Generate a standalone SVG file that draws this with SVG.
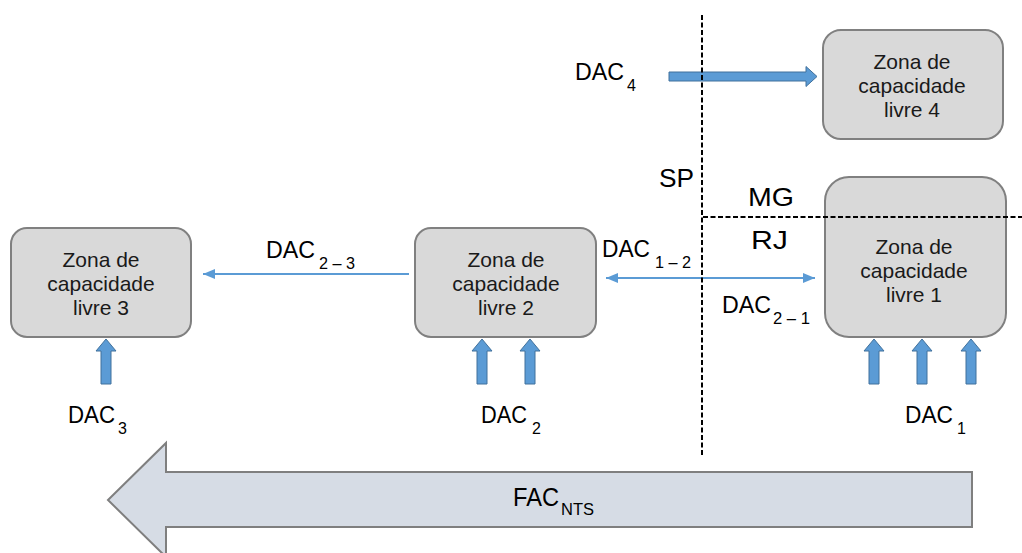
<svg xmlns="http://www.w3.org/2000/svg" xmlns:xlink="http://www.w3.org/1999/xlink" width="1022" height="553" viewBox="0 0 1022 553">
  <style>
    .zone { fill: #d9d9d9; stroke: #808080; stroke-width: 2; }
    .zt { font-family: "Liberation Sans", Arial, sans-serif; font-size: 21px; fill: #1a1a1a; text-anchor: middle; }
    .lbl { font-family: "Liberation Sans", Arial, sans-serif; font-size: 24px; fill: #000; }
    .sub { font-family: "Liberation Sans", Arial, sans-serif; font-size: 16px; fill: #000; }
    .big { font-family: "Liberation Sans", Arial, sans-serif; font-size: 26px; fill: #000; }
    .flow { stroke: #5b9bd5; stroke-width: 2.2; fill: none; }
    .block { fill: #5b9bd5; stroke: #41719c; stroke-width: 1; }
    .border { stroke: #000; stroke-width: 2; stroke-dasharray: 5 2.5; fill: none; }
    .nts { fill: #d6dce5; stroke: #7f7f7f; stroke-width: 2; }
  </style>
  <defs>
    <marker id="tip" markerUnits="userSpaceOnUse" markerWidth="13" markerHeight="11" refX="12" refY="5" orient="auto-start-reverse">
      <path d="M0,0 L12,5 L0,10 z" fill="#5b9bd5"/>
    </marker>
    <!-- upward block arrow, centred on x=0 -->
    <polygon id="up" class="block" points="0,339 10,351 5,351 5,384 -5,384 -5,351 -10,351"/>
  </defs>

  <!-- national transmission flow -->
  <g id="fac-nts">
    <polygon class="nts" points="108,500 166,443 166,472 972,472 972,527 166,527 166,557"/>
    <text class="big" x="513" y="506" textLength="46" lengthAdjust="spacingAndGlyphs">FAC</text>
    <text class="sub" x="561" y="515" textLength="33" lengthAdjust="spacingAndGlyphs">NTS</text>
  </g>

  <g id="zona4">
    <rect class="zone" x="823" y="30" width="180" height="109" rx="18"/>
    <text class="zt" x="912" y="69">Zona de</text>
    <text class="zt" x="912" y="93">capacidade</text>
    <text class="zt" x="912" y="117">livre 4</text>
  </g>

  <g id="zona1">
    <rect class="zone" x="825" y="177" width="181" height="160" rx="24"/>
    <text class="zt" x="914" y="254">Zona de</text>
    <text class="zt" x="914" y="278">capacidade</text>
    <text class="zt" x="914" y="302">livre 1</text>
  </g>

  <g id="zona2">
    <rect class="zone" x="415" y="228" width="181" height="109" rx="16"/>
    <text class="zt" x="506" y="267">Zona de</text>
    <text class="zt" x="506" y="291">capacidade</text>
    <text class="zt" x="506" y="315">livre 2</text>
  </g>

  <g id="zona3">
    <rect class="zone" x="11" y="228" width="180" height="109" rx="16"/>
    <text class="zt" x="101" y="267">Zona de</text>
    <text class="zt" x="101" y="291">capacidade</text>
    <text class="zt" x="101" y="315">livre 3</text>
  </g>

  <g id="connectors">
    <!-- DAC4 into zone 4 -->
    <polygon class="block" points="669,72 806,72 806,66.5 817,76.5 806,86.5 806,81 669,81"/>
    <!-- zone 2 to zone 3 -->
    <line class="flow" x1="409" y1="274" x2="203" y2="274" marker-end="url(#tip)"/>
    <!-- exchange between zone 1 and zone 2 -->
    <line class="flow" x1="606" y1="278" x2="815" y2="278" marker-start="url(#tip)" marker-end="url(#tip)"/>
    <!-- local injections -->
    <use xlink:href="#up" x="106"/>
    <use xlink:href="#up" x="482"/>
    <use xlink:href="#up" x="530"/>
    <use xlink:href="#up" x="874"/>
    <use xlink:href="#up" x="922"/>
    <use xlink:href="#up" x="971"/>
  </g>

  <g id="labels">
    <text class="lbl" x="575" y="80" textLength="49" lengthAdjust="spacingAndGlyphs">DAC</text>
    <text class="sub" x="627" y="91">4</text>

    <text class="lbl" x="266" y="258" textLength="49" lengthAdjust="spacingAndGlyphs">DAC</text>
    <text class="sub" x="319" y="269" textLength="36" lengthAdjust="spacingAndGlyphs">2 – 3</text>

    <text class="lbl" x="602" y="257" textLength="48" lengthAdjust="spacingAndGlyphs">DAC</text>
    <text class="sub" x="655" y="268" textLength="36" lengthAdjust="spacingAndGlyphs">1 – 2</text>

    <text class="lbl" x="722" y="313" textLength="49" lengthAdjust="spacingAndGlyphs">DAC</text>
    <text class="sub" x="773" y="324" textLength="37" lengthAdjust="spacingAndGlyphs">2 – 1</text>

    <text class="lbl" x="68" y="423" textLength="47" lengthAdjust="spacingAndGlyphs">DAC</text>
    <text class="sub" x="118" y="434">3</text>

    <text class="lbl" x="481" y="423" textLength="46" lengthAdjust="spacingAndGlyphs">DAC</text>
    <text class="sub" x="532" y="434">2</text>

    <text class="lbl" x="905" y="423" textLength="48" lengthAdjust="spacingAndGlyphs">DAC</text>
    <text class="sub" x="957" y="434">1</text>
  </g>

  <!-- state borders -->
  <g id="borders">
    <line class="border" x1="702" y1="15" x2="702" y2="456"/>
    <line class="border" x1="703" y1="217" x2="1022" y2="217"/>
    <text class="big" x="659" y="187" textLength="35" lengthAdjust="spacingAndGlyphs">SP</text>
    <text class="big" x="748" y="206" textLength="46" lengthAdjust="spacingAndGlyphs">MG</text>
    <text class="big" x="751" y="249" textLength="37" lengthAdjust="spacingAndGlyphs">RJ</text>
  </g>
</svg>
